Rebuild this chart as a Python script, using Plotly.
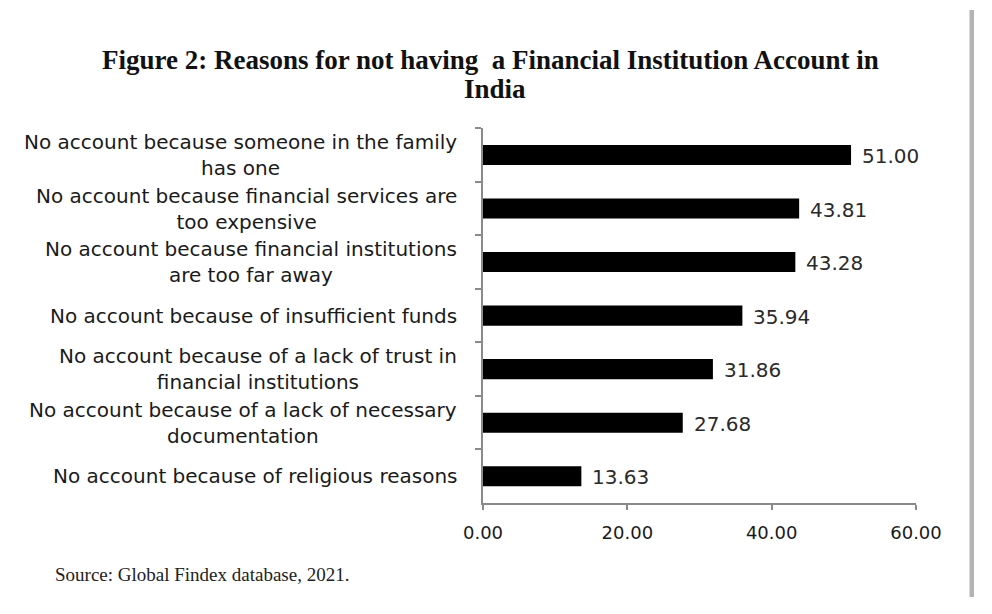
import plotly.graph_objects as go

# ---- data ----
categories = [
    "No account because someone in the family<br>has one",
    "No account because financial services are<br>too expensive",
    "No account because financial institutions<br>are too far away",
    "No account because of insufficient funds",
    "No account because of a lack of trust in<br>financial institutions",
    "No account because of a lack of necessary<br>documentation",
    "No account because of religious reasons",
]
values = [51.00, 43.81, 43.28, 35.94, 31.86, 27.68, 13.63]
x_tick_values = [0, 20, 40, 60]
x_tick_labels = ["0.00", "20.00", "40.00", "60.00"]

title_line1 = "Figure 2: Reasons for not having  a Financial Institution Account in"
title_line2 = "India"
source_text = "Source: Global Findex database, 2021."

# ---- layout geometry ----
# The page body has an 8px margin, so the figure is drawn 8px right/down.
OFF = 8
W, H = 992 - OFF, 614 - OFF
# plot area in page pixels
L, R, T, B = 483, 916, 128, 503


def px(xp):
    return (xp - L) / (R - L)


def py(yp):
    return (B - yp) / (B - T)


fig = go.Figure()
fig.add_trace(go.Bar(
    x=values, y=categories, orientation="h",
    marker=dict(color="#000000", line=dict(color="#000000", width=0)),
    width=0.375, hoverinfo="skip",
))

annotations = []
for c in categories:
    annotations.append(dict(
        x=px(459), xref="paper", y=c, yref="y", text=c, showarrow=False,
        xanchor="right", yanchor="middle", align="center",
        font=dict(family="DejaVu Sans", size=20, color="#1a1a1a"),
    ))
for c, v in zip(categories, values):
    annotations.append(dict(
        x=v, xref="x", y=c, yref="y", text=f"{v:.2f}", showarrow=False,
        xanchor="left", yanchor="middle", xshift=9, yshift=-1,
        font=dict(family="DejaVu Sans", size=20, color="#2a2a2a"),
    ))
annotations.append(dict(
    x=px(490), xref="paper", y=py(60), yref="paper", text=title_line1,
    showarrow=False, xanchor="center", yanchor="middle",
    font=dict(family="Liberation Serif", size=27, color="#111111", weight="bold"),
))
annotations.append(dict(
    x=px(495), xref="paper", y=py(89), yref="paper", text=title_line2,
    showarrow=False, xanchor="center", yanchor="middle",
    font=dict(family="Liberation Serif", size=27, color="#111111", weight="bold"),
))
annotations.append(dict(
    x=px(53), xref="paper", y=py(574), yref="paper", text=source_text,
    showarrow=False, xanchor="left", yanchor="middle",
    font=dict(family="Liberation Serif", size=19, color="#222222"),
))

shapes = [
    dict(type="rect", xref="paper", yref="paper", x0=px(969.5), x1=px(974), y0=py(10), y1=py(597),
         fillcolor="#b4b4b4", line=dict(width=0), layer="above"),
]

fig.update_layout(
    width=W, height=H,
    margin=dict(l=L - OFF, r=W - (R - OFF), t=T - OFF, b=H - (B - OFF), pad=0),
    paper_bgcolor="#ffffff", plot_bgcolor="#ffffff",
    showlegend=False,
    annotations=annotations,
    shapes=shapes,
    xaxis=dict(
        range=[0, 60], tickvals=x_tick_values, ticktext=x_tick_labels,
        showgrid=False, zeroline=False, showline=True, linecolor="#8a8a8a", linewidth=1.5,
        ticks="outside", ticklen=5, tickcolor="#8a8a8a", tickwidth=1.5,
        ticklabelstandoff=8,
        tickfont=dict(family="DejaVu Sans", size=18, color="#1a1a1a"),
        fixedrange=True,
    ),
    yaxis=dict(
        autorange="reversed", showticklabels=False, showgrid=False, zeroline=False,
        showline=True, linecolor="#8a8a8a", linewidth=1.5,
        ticks="outside", tickson="boundaries", ticklen=6, tickcolor="#8a8a8a", tickwidth=1.5,
        fixedrange=True,
    ),
)

fig.write_html("out.html")
